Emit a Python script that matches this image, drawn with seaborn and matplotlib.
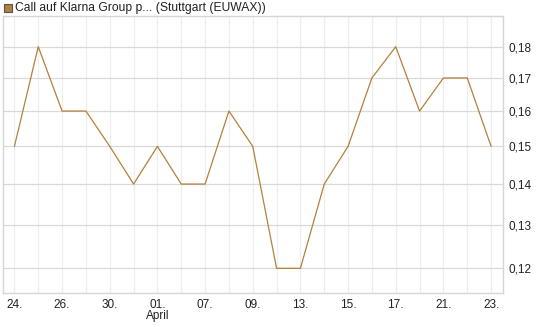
import numpy as np
import pandas as pd
import matplotlib
import matplotlib.pyplot as plt
from matplotlib.ticker import FixedLocator, NullLocator
import seaborn as sns

days = ['24.', '25.', '26.', '27.', '30.', '31.', '01.', '02.', '07.', '08.', '09.',
        '10.', '13.', '14.', '15.', '16.', '17.', '20.', '21.', '22.', '23.']
prices = [0.15, 0.18, 0.16, 0.16, 0.15, 0.14, 0.15, 0.14, 0.14, 0.16, 0.15,
          0.12, 0.12, 0.14, 0.15, 0.17, 0.18, 0.16, 0.17, 0.17, 0.15]
y_ticks = [0.12, 0.13, 0.14, 0.15, 0.16, 0.17, 0.18]
title = 'Call auf Klarna Group p... (Stuttgart (EUWAX))'

df = pd.DataFrame({'idx': np.arange(len(days)), 'day': days, 'price': prices})

sns.set_style('white')
plt.rcParams['font.family'] = ['Liberation Sans', 'DejaVu Sans']

line_color = '#b5803a'

fig = plt.figure(figsize=(5.45, 3.27), dpi=100)
ax = fig.add_axes([2.5 / 545, 1 - 293 / 327, 500.5 / 545, 277 / 327])

sns.lineplot(data=df, x='idx', y='price', ax=ax, color=line_color, linewidth=0.9)

ax.set_yscale('log')
ax.set_ylim(0.1147, 0.1904)
ax.set_xlim(-0.5, len(days) - 0.5)

ax.yaxis.set_major_locator(FixedLocator(y_ticks))
ax.yaxis.set_minor_locator(NullLocator())
ax.set_yticklabels([f'{t:.2f}'.replace('.', ',') for t in y_ticks])
ax.yaxis.tick_right()

ax.xaxis.set_major_locator(FixedLocator(df['idx'][::2]))
ax.xaxis.set_minor_locator(FixedLocator(df['idx'][1::2]))
ax.set_xticklabels(df['day'][::2])

ax.grid(True, axis='y', which='major', color='#d9d9d9', linewidth=0.9)
ax.grid(True, axis='x', which='both', color='#eeeeee', linewidth=0.9)
ax.set_axisbelow(True)

ax.tick_params(axis='y', which='both', length=0, labelsize=8.5, pad=4, colors='#222222')
ax.tick_params(axis='x', which='both', length=3, color='#dddddd', labelsize=8.5,
               pad=1, labelcolor='#222222', direction='out')
for s in ax.spines.values():
    s.set_color('#d6d6d6')
    s.set_linewidth(1)

ax.set_xlabel('')
ax.set_ylabel('')

# month marker under the 01. tick
ax.text(6, -0.06, 'April', transform=ax.get_xaxis_transform(), ha='center', va='top',
        fontsize=8.5, color='#222222')

# legend-like title
fig.patches.append(matplotlib.patches.Rectangle((4 / 545, 1 - 12 / 327), 8 / 545, 8 / 327,
                   transform=fig.transFigure, facecolor=line_color, edgecolor='#555555',
                   linewidth=0.8))
fig.text(15 / 545, 1 - 8 / 327, title, ha='left', va='center', fontsize=8.7, color='#222222')

fig.savefig('out.png', dpi=100)
